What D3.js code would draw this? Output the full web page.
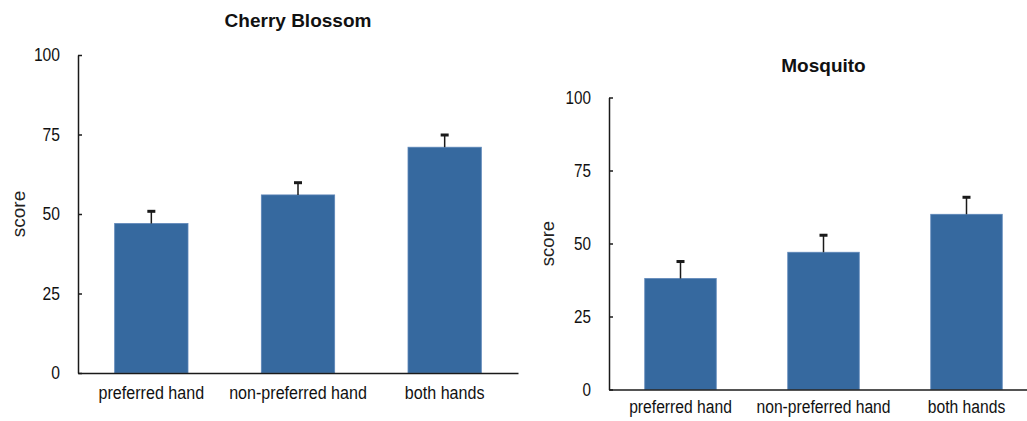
<!DOCTYPE html>
<html>
<head>
<meta charset="utf-8">
<script src="https://cdn.jsdelivr.net/npm/d3@7"></script>
<style>
  html, body { margin: 0; padding: 0; background: #fff; }
  svg { display: block; font-family: "Liberation Sans", Arial, sans-serif; }
</style>
</head>
<body>
<svg id="chart" width="1027" height="421"></svg>
<script>
// Group labels shared by both panels
const categories = ["preferred hand", "non-preferred hand", "both hands"];

// Cherry Blossom: mean score and error (upper bar) per hand condition
const cherryMeans = [47, 56, 71];
const cherryErrors = [4, 4, 4];

// Mosquito: mean score and error per hand condition
const mosquitoMeans = [38, 47, 60];
const mosquitoErrors = [6, 6, 6];

// Y-axis tick values
const yTicks = [0, 25, 50, 75, 100];

const panelTitles = ["Cherry Blossom", "Mosquito"];

const BAR_COLOR = "#36699f";
const AXIS_COLOR = "#1a1a1a";
const SQUEEZE = 0.87;   // horizontal condensing of axis text

const svg = d3.select("#chart");

const panels = [
  { title: panelTitles[0], means: cherryMeans, errors: cherryErrors,
    x0: 78, x1: 518, yTop: 55, yBottom: 373, titleY: 27,
    labelX: 18, labelSize: 19, tickSize: 18, catSize: 18.5, catBaseline: 26 },
  { title: panelTitles[1], means: mosquitoMeans, errors: mosquitoErrors,
    x0: 609, x1: 1038, yTop: 97.5, yBottom: 389.5, titleY: 72,
    labelX: 548, labelSize: 18.5, tickSize: 17.5, catSize: 18, catBaseline: 23.5 }
];

panels.forEach(p => {
  const g = svg.append("g");

  const x = d3.scaleBand()
    .domain(categories)
    .range([p.x0, p.x1])
    .paddingInner(0.5)
    .paddingOuter(0.25);

  const y = d3.scaleLinear()
    .domain([0, 100])
    .range([p.yBottom, p.yTop]);

  const rows = categories.map((c, i) => ({ cat: c, mean: p.means[i], err: p.errors[i] }));

  // bars
  g.selectAll("rect.bar")
    .data(rows)
    .join("rect")
    .attr("class", "bar")
    .attr("x", d => x(d.cat))
    .attr("width", x.bandwidth())
    .attr("y", d => y(d.mean))
    .attr("height", d => y(0) - y(d.mean))
    .attr("fill", BAR_COLOR)
    .attr("stroke", "#5d86b8")
    .attr("stroke-width", 0.8);

  // error bars: stem from bar top to mean + err, with a heavy cap
  g.selectAll("line.err")
    .data(rows)
    .join("line")
    .attr("class", "err")
    .attr("x1", d => x(d.cat) + x.bandwidth() / 2)
    .attr("x2", d => x(d.cat) + x.bandwidth() / 2)
    .attr("y1", d => y(d.mean))
    .attr("y2", d => y(d.mean + d.err))
    .attr("stroke", AXIS_COLOR)
    .attr("stroke-width", 1.5);

  g.selectAll("rect.cap")
    .data(rows)
    .join("rect")
    .attr("class", "cap")
    .attr("x", d => x(d.cat) + x.bandwidth() / 2 - 4)
    .attr("width", 8)
    .attr("y", d => y(d.mean + d.err) - 1)
    .attr("height", 3)
    .attr("fill", AXIS_COLOR);

  // y axis with ticks pointing into the plot
  const yAxis = d3.axisLeft(y)
    .tickValues(yTicks)
    .tickSizeInner(-4)
    .tickSizeOuter(0)
    .tickPadding(18 / SQUEEZE - 4);

  const ya = g.append("g")
    .attr("transform", `translate(${p.x0},0)`)
    .call(yAxis);
  ya.select(".domain").attr("stroke", AXIS_COLOR).attr("stroke-width", 1.5);
  ya.selectAll(".tick line").attr("stroke", AXIS_COLOR).attr("stroke-width", 1.5);
  ya.selectAll(".tick text")
    .attr("fill", "#111")
    .attr("x", -18 / SQUEEZE)
    .attr("transform", `scale(${SQUEEZE},1)`)
    .style("font-size", p.tickSize + "px")
    .style("font-family", "'Liberation Sans', Arial, sans-serif");

  // x axis baseline and category labels
  const xAxis = d3.axisBottom(x).tickSize(0).tickPadding(0);
  const xa = g.append("g")
    .attr("transform", `translate(0,${p.yBottom})`)
    .call(xAxis);
  xa.select(".domain").attr("stroke", AXIS_COLOR).attr("stroke-width", 1.5);
  xa.selectAll(".tick text")
    .attr("fill", "#111")
    .attr("y", p.catBaseline)
    .attr("dy", 0)
    .attr("transform", `scale(${SQUEEZE},1)`)
    .style("font-size", p.catSize + "px")
    .style("font-family", "'Liberation Sans', Arial, sans-serif");

  // y axis label
  g.append("text")
    .attr("transform", `translate(${p.labelX},${(p.yTop + p.yBottom) / 2}) rotate(-90)`)
    .attr("text-anchor", "middle")
    .attr("dy", "0.35em")
    .attr("fill", "#222")
    .style("font-size", p.labelSize + "px")
    .text("score");

  // panel title
  g.append("text")
    .attr("x", (p.x0 + p.x1) / 2)
    .attr("y", p.titleY)
    .attr("text-anchor", "middle")
    .attr("fill", "#111")
    .style("font-size", "19px")
    .style("font-weight", "bold")
    .text(p.title);
});
</script>
</body>
</html>
